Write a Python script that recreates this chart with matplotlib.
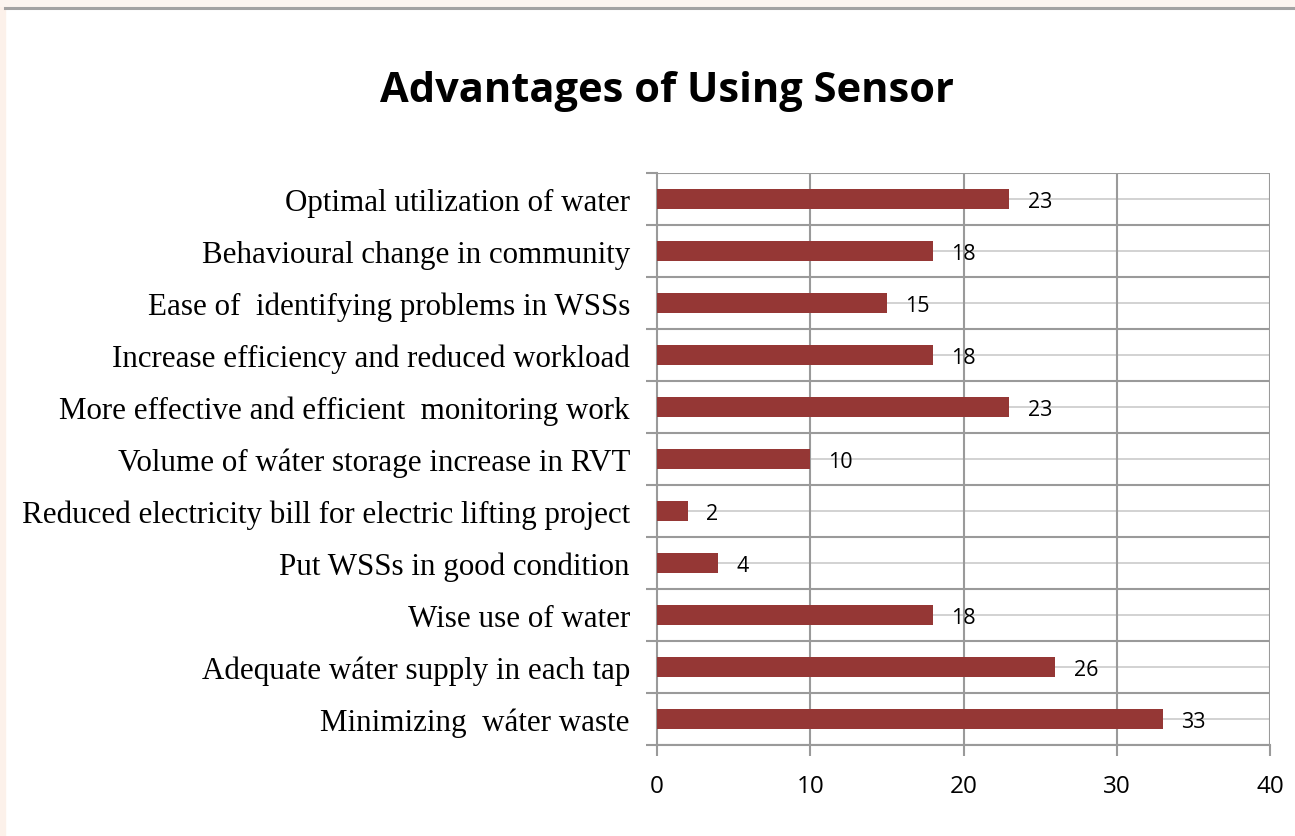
import matplotlib.pyplot as plt
from matplotlib.patches import Rectangle
from matplotlib.lines import Line2D

categories = [
    "Optimal utilization of water",
    "Behavioural change in community",
    "Ease of  identifying problems in WSSs",
    "Increase efficiency and reduced workload",
    "More effective and efficient  monitoring work",
    "Volume of wáter storage increase in RVT",
    "Reduced electricity bill for electric lifting project",
    "Put WSSs in good condition",
    "Wise use of water",
    "Adequate wáter supply in each tap",
    "Minimizing  wáter waste",
]
values = [23, 18, 15, 18, 23, 10, 2, 4, 18, 26, 33]
xticks = [0, 10, 20, 30, 40]

W, H = 1295, 837
fig = plt.figure(figsize=(W / 100, H / 100), dpi=100)
fig.patch.set_facecolor("white")

# page edge: pale strips and a grey rule at the top
fig.add_artist(Rectangle((0, 0), 5 / W, 1, transform=fig.transFigure,
                         color="#fcf1ea", zorder=0))
fig.add_artist(Rectangle((0, 1 - 7 / H), 1, 7 / H, transform=fig.transFigure,
                         color="#fcf5f0", zorder=0))
fig.add_artist(Line2D([5 / W, 1], [1 - 8.5 / H, 1 - 8.5 / H], transform=fig.transFigure,
                      color="#a3a3a3", lw=2.2))

left, right, top, bottom = 657, 1270, 174, 746
ax = fig.add_axes([left / W, 1 - bottom / H, (right - left) / W, (bottom - top) / H])

n = len(categories)
ypos = list(range(n))[::-1]
ax.barh(ypos, values, height=0.39, color="#953735", zorder=3)
ax.set_xlim(0, 40)
ax.set_ylim(-0.5, n - 0.5)

# light lines through bar centres, darker ones between categories
for y in ypos:
    ax.axhline(y, color="#cfcfcf", lw=1.3, zorder=1)
for k in range(n + 1):
    ax.axhline(k - 0.5, color="#9a9a9a", lw=1.5, zorder=2)
for xv in xticks[1:]:
    ax.axvline(xv, color="#9a9a9a", lw=1.5, zorder=2)

for y, v in zip(ypos, values):
    ax.annotate(str(v), xy=(v, y), xytext=(13, -2), textcoords="offset points",
                ha="left", va="center", fontsize=15.5, family="Open Sans",
                color="#000000", zorder=4)

ax.set_yticks(ypos)
ax.set_yticklabels(categories, family="Liberation Serif", fontsize=22.3)
ax.set_yticks([k - 0.5 for k in range(n + 1)], minor=True)
ax.tick_params(axis="y", which="major", length=0, pad=19.5)
ax.tick_params(axis="y", which="minor", length=8, color="#9a9a9a", width=1.5)
ax.set_xticks(xticks)
ax.set_xticklabels([str(t) for t in xticks], family="Open Sans", fontsize=17.5)
ax.tick_params(axis="x", length=8, color="#9a9a9a", width=1.5, pad=13)

for side in ["top", "right"]:
    ax.spines[side].set_visible(False)
ax.spines["left"].set_color("#9a9a9a")
ax.spines["bottom"].set_color("#9a9a9a")
ax.spines["left"].set_linewidth(1.5)
ax.spines["bottom"].set_linewidth(1.5)

fig.text(667 / W, 1 - 92 / H, "Advantages of Using Sensor", ha="center", va="center",
         fontsize=30, fontweight="bold", family="Open Sans")

fig.savefig("out.png", dpi=100)
